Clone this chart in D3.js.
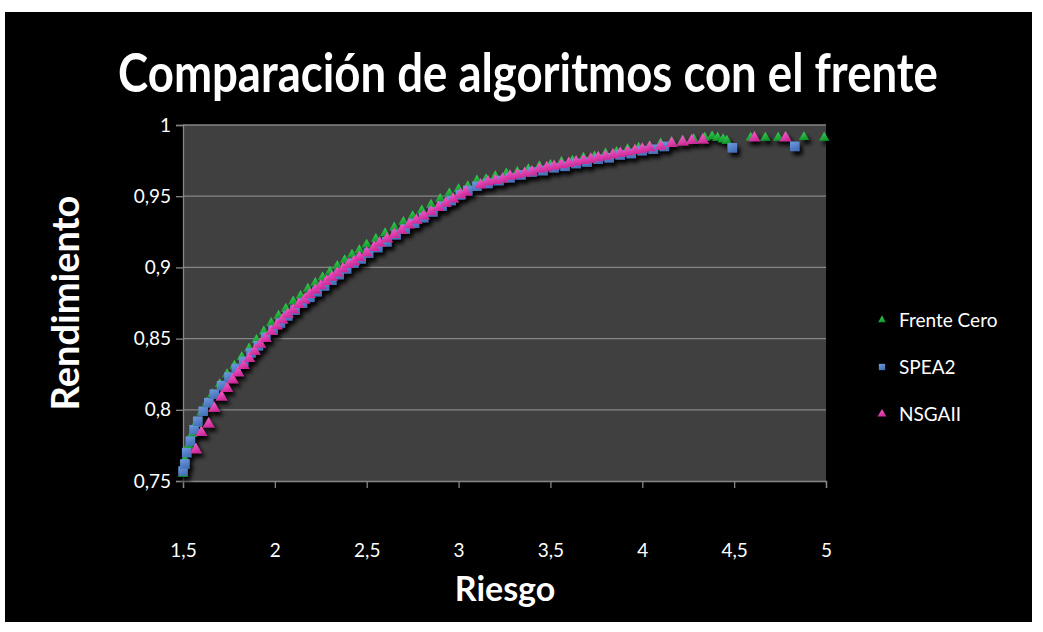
<!DOCTYPE html>
<html>
<head>
<meta charset="utf-8">
<script src="https://cdn.jsdelivr.net/npm/d3@7"></script>
<style>
  html, body { margin: 0; padding: 0; background: #ffffff; }
  svg { display: block; }
  text { font-family: Lato, "Open Sans", sans-serif; fill: #ffffff; }
</style>
</head>
<body>
<svg id="chart" width="1043" height="632"></svg>
<script>
// Frente Cero: [riesgo, rendimiento]
const frenteCero = [
  [1.50,0.755],[1.51,0.765],[1.53,0.775],[1.55,0.783],[1.57,0.790],[1.60,0.798],
  [1.63,0.805],[1.66,0.811],[1.70,0.818],[1.74,0.825],[1.78,0.831],[1.82,0.837],
  [1.86,0.843],[1.90,0.849],[1.94,0.855],[1.98,0.861],[2.02,0.866],[2.06,0.871],
  [2.10,0.876],[2.14,0.880],[2.18,0.885],[2.22,0.889],[2.26,0.893],[2.30,0.897],
  [2.34,0.901],[2.38,0.905],[2.42,0.909],[2.46,0.912],[2.50,0.916],[2.55,0.920],
  [2.60,0.924],[2.65,0.928],[2.70,0.932],[2.75,0.936],[2.80,0.940],[2.85,0.944],
  [2.90,0.948],[2.95,0.952],[3.00,0.955],[3.05,0.957],[3.10,0.961],[3.15,0.962],
  [3.20,0.964],[3.26,0.966],[3.32,0.967],[3.38,0.969],[3.44,0.971],[3.50,0.972],
  [3.56,0.974],[3.62,0.975],[3.68,0.977],[3.74,0.978],[3.80,0.980],[3.86,0.981],
  [3.92,0.983],[3.98,0.984],[4.04,0.985],[4.10,0.987],[4.16,0.988],[4.22,0.989],
  [4.28,0.990],[4.34,0.991],[4.38,0.992],[4.41,0.991],[4.44,0.990],[4.46,0.989],
  [4.59,0.991],[4.67,0.991],[4.74,0.991],[4.78,0.991],[4.88,0.9915],[4.99,0.991]
];

// SPEA2: [riesgo, rendimiento]
const spea2 = [
  [1.50,0.757],[1.51,0.762],[1.52,0.770],[1.54,0.778],[1.56,0.786],[1.58,0.792],
  [1.61,0.799],[1.64,0.805],[1.67,0.811],[1.71,0.817],[1.75,0.823],[1.79,0.829],
  [1.83,0.834],[1.87,0.840],[1.91,0.845],[1.95,0.851],[1.99,0.856],[2.03,0.861],
  [2.07,0.866],[2.11,0.870],[2.15,0.875],[2.19,0.879],[2.23,0.883],[2.27,0.887],
  [2.31,0.891],[2.35,0.895],[2.39,0.899],[2.43,0.903],[2.47,0.906],[2.51,0.910],
  [2.56,0.914],[2.61,0.918],[2.66,0.923],[2.71,0.927],[2.76,0.931],[2.81,0.935],
  [2.86,0.939],[2.91,0.943],[2.96,0.947],[3.01,0.951],[3.05,0.954],[3.10,0.957],
  [3.16,0.959],[3.22,0.961],[3.28,0.963],[3.34,0.965],[3.40,0.967],[3.46,0.968],
  [3.52,0.970],[3.58,0.971],[3.64,0.973],[3.70,0.974],[3.76,0.976],[3.82,0.977],
  [3.88,0.979],[3.94,0.980],[4.00,0.982],[4.06,0.983],[4.12,0.985],
  [4.49,0.984],[4.83,0.985]
];

// NSGAII: [riesgo, rendimiento]
const nsgaii = [
  [1.57,0.772],[1.60,0.784],[1.64,0.790],[1.67,0.801],[1.71,0.809],[1.74,0.815],
  [1.77,0.821],[1.80,0.826],[1.83,0.831],[1.86,0.836],[1.89,0.841],[1.92,0.846],
  [1.95,0.850],[1.98,0.855],[2.01,0.859],[2.04,0.863],[2.07,0.867],[2.10,0.870],
  [2.13,0.874],[2.16,0.877],[2.19,0.881],[2.22,0.884],[2.25,0.887],[2.28,0.890],
  [2.31,0.893],[2.34,0.896],[2.37,0.899],[2.40,0.902],[2.43,0.904],[2.46,0.907],
  [2.50,0.910],[2.54,0.914],[2.57,0.917],[2.61,0.920],[2.65,0.923],[2.69,0.926],
  [2.73,0.930],[2.77,0.933],[2.81,0.936],[2.85,0.939],[2.89,0.942],[2.93,0.945],
  [2.97,0.948],[3.01,0.951],[3.04,0.953],[3.12,0.958],[3.16,0.960],[3.20,0.961],
  [3.24,0.962],[3.28,0.964],[3.32,0.965],[3.36,0.966],[3.40,0.967],[3.44,0.969],
  [3.48,0.970],[3.52,0.971],[3.56,0.972],[3.60,0.973],[3.64,0.974],[3.68,0.975],
  [3.72,0.976],[3.76,0.977],[3.80,0.978],[3.84,0.979],[3.88,0.980],[3.92,0.981],
  [3.96,0.982],[4.00,0.983],[4.04,0.984],[4.10,0.985],[4.16,0.987],[4.22,0.988],
  [4.27,0.989],[4.33,0.9895],[4.61,0.991],[4.78,0.991]
];

const seriesNames = ["Frente Cero", "SPEA2", "NSGAII"];

const xTickValues = [1.5, 2, 2.5, 3, 3.5, 4, 4.5, 5];
const xTickLabels = ["1,5", "2", "2,5", "3", "3,5", "4", "4,5", "5"];
const yTickValues = [0.75, 0.8, 0.85, 0.9, 0.95, 1];
const yTickLabels = ["0,75", "0,8", "0,85", "0,9", "0,95", "1"];

const titleText = "Comparación de algoritmos con el frente";
const xTitle = "Riesgo";
const yTitle = "Rendimiento";

const svg = d3.select("#chart");

// dark chart area
svg.append("rect").attr("x", 5).attr("y", 12).attr("width", 1027).attr("height", 610)
  .attr("fill", "#000000");

const plot = { left: 183, right: 826, top: 125, bottom: 481 };

const x = d3.scaleLinear().domain([1.5, 5]).range([plot.left, plot.right]);
const y = d3.scaleLinear().domain([0.75, 1]).range([plot.bottom, plot.top]);

const defs = svg.append("defs");
const shadow = defs.append("filter").attr("id", "shade")
  .attr("x", "-50%").attr("y", "-50%").attr("width", "200%").attr("height", "200%");
shadow.append("feDropShadow").attr("dx", 3).attr("dy", 4).attr("stdDeviation", 2)
  .attr("flood-color", "#000").attr("flood-opacity", 1);

function grad(id, c1, c2) {
  const g = defs.append("linearGradient").attr("id", id)
    .attr("x1", "0").attr("y1", "0").attr("x2", "0.4").attr("y2", "1");
  g.append("stop").attr("offset", "0").attr("stop-color", c1);
  g.append("stop").attr("offset", "1").attr("stop-color", c2);
}
grad("gGreen", "#3fdc5c", "#12962c");
grad("gBlue", "#6f9be0", "#4571b8");
grad("gPink", "#ff6ad6", "#cc2c98");

// plot background
svg.append("rect")
  .attr("x", plot.left).attr("y", plot.top)
  .attr("width", plot.right - plot.left).attr("height", plot.bottom - plot.top)
  .attr("fill", "#404040");

// horizontal gridlines
svg.append("g").selectAll("line").data(yTickValues.filter(v => v !== 0.75)).join("line")
  .attr("x1", plot.left).attr("x2", plot.right)
  .attr("y1", d => y(d)).attr("y2", d => y(d))
  .attr("stroke", "#868686").attr("stroke-width", 1.3);

// axes
const xAxis = d3.axisBottom(x).tickValues(xTickValues)
  .tickFormat((d, i) => xTickLabels[i]).tickSize(7).tickPadding(56);
const yAxis = d3.axisLeft(y).tickValues(yTickValues)
  .tickFormat((d, i) => yTickLabels[i]).tickSize(7).tickPadding(5);

const gx = svg.append("g").attr("transform", `translate(0,${plot.bottom})`).call(xAxis);
const gy = svg.append("g").attr("transform", `translate(${plot.left},0)`).call(yAxis);
[gx, gy].forEach(g => {
  g.select(".domain").attr("stroke", "#868686").attr("stroke-width", 1.3);
  g.selectAll(".tick line").attr("stroke", "#868686").attr("stroke-width", 1.3);
  g.selectAll(".tick text").attr("fill", "#ffffff")
    .style("font-family", "Lato, sans-serif").style("font-size", "19px");
});

// series markers
const tri = d3.symbol().type(d3.symbolTriangle);
const sq = d3.symbol().type(d3.symbolSquare);

const layers = svg.append("g").attr("filter", "url(#shade)");

layers.append("g").selectAll("path").data(frenteCero).join("path")
  .attr("d", tri.size(46)())
  .attr("transform", d => `translate(${x(d[0])},${y(d[1])})`)
  .attr("fill", "url(#gGreen)");

layers.append("g").selectAll("path").data(spea2).join("path")
  .attr("d", sq.size(90)())
  .attr("transform", d => `translate(${x(d[0])},${y(d[1])})`)
  .attr("fill", "url(#gBlue)");

layers.append("g").selectAll("path").data(nsgaii).join("path")
  .attr("d", tri.size(62)())
  .attr("transform", d => `translate(${x(d[0])},${y(d[1])})`)
  .attr("fill", "url(#gPink)");

// text squeezed horizontally to a target width (condensed bold headings)
function fittedText(cx, cy, angle, size, width, str) {
  const g = svg.append("g").attr("transform", `translate(${cx},${cy}) rotate(${angle})`);
  const t = g.append("text").attr("text-anchor", "middle")
    .style("font-size", size + "px").style("font-weight", "bold").text(str);
  const natural = t.node().getComputedTextLength();
  t.attr("transform", `scale(${Math.min(1, width / natural)},1)`);
  return t;
}

// title
fittedText(528, 92, 0, 54, 820, titleText);

// axis titles
fittedText(505, 601, 0, 34, 102, xTitle);
fittedText(79, 303, -90, 38, 220, yTitle);

// legend
const legendY = [320, 367, 414];
const legend = svg.append("g");
const legendFills = ["url(#gGreen)", "url(#gBlue)", "url(#gPink)"];
const legendShapes = [tri.size(26)(), sq.size(40)(), tri.size(34)()];
seriesNames.forEach((name, i) => {
  legend.append("path").attr("d", legendShapes[i])
    .attr("transform", `translate(882,${legendY[i]})`)
    .attr("fill", legendFills[i]);
  legend.append("text").attr("x", 899).attr("y", legendY[i]).attr("dy", "0.35em")
    .style("font-size", "19px").text(name);
});
</script>
</body>
</html>
